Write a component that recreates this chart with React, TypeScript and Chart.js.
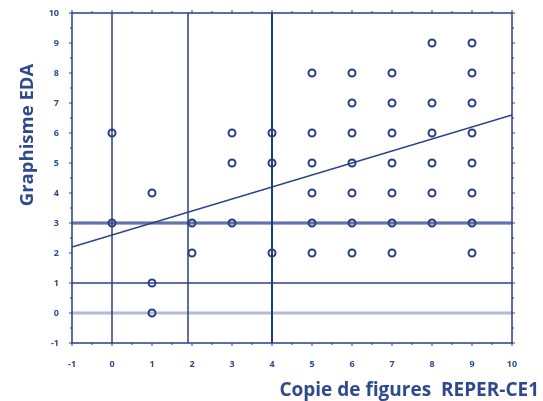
import React, { useEffect, useRef } from "react";
import { Chart, registerables } from "chart.js";

Chart.register(...registerables);

// Data
const columnX = [0, 1, 2, 3, 4, 5, 6, 7, 8, 9];
const columnY = [
  [6, 3],
  [4, 1, 0],
  [3, 2],
  [6, 5, 3],
  [6, 5, 2],
  [8, 6, 5, 4, 3, 2],
  [8, 7, 6, 5, 4, 3, 2],
  [8, 7, 6, 5, 4, 3, 2],
  [9, 7, 6, 5, 4, 3],
  [9, 8, 7, 6, 5, 4, 3, 2],
];
const regressionX = [-1, 10];
const regressionY = [2.2, 6.6];
const verticalLinesX = [0, 1.9, 4];
const horizontalLinesY = [0, 1, 3];
const xTicks = [-1, 0, 1, 2, 3, 4, 5, 6, 7, 8, 9, 10];
const yTicks = [-1, 0, 1, 2, 3, 4, 5, 6, 7, 8, 9, 10];
const xTitle = "Copie de figures  REPER-CE1";
const yTitle = "Graphisme EDA";

const NAVY = "#2a3f86";
const TEXT = "#2f4a8c";

const frameLinesPlugin = {
  id: "frameTicks",
  afterDatasetsDraw(chart: any) {
    const { ctx, chartArea } = chart;
    const { left, right, top, bottom } = chartArea;
    const xs = chart.scales.x;
    const ys = chart.scales.y;
    ctx.save();
    ctx.strokeStyle = NAVY;
    ctx.lineWidth = 1.5;
    ctx.strokeRect(left, top, right - left, bottom - top);
    ctx.lineWidth = 1;
    for (let v = xTicks[0]; v <= xTicks[xTicks.length - 1] + 1e-9; v += 0.5) {
      const px = xs.getPixelForValue(v);
      const len = Math.abs(v - Math.round(v)) < 1e-9 ? 3 : 2;
      ctx.beginPath();
      ctx.moveTo(px, bottom);
      ctx.lineTo(px, bottom + len);
      ctx.moveTo(px, top);
      ctx.lineTo(px, top - len);
      ctx.stroke();
    }
    for (let v = yTicks[0]; v <= yTicks[yTicks.length - 1] + 1e-9; v += 0.5) {
      const py = ys.getPixelForValue(v);
      const len = Math.abs(v - Math.round(v)) < 1e-9 ? 3 : 2;
      ctx.beginPath();
      ctx.moveTo(left, py);
      ctx.lineTo(left - len, py);
      ctx.moveTo(right, py);
      ctx.lineTo(right + len, py);
      ctx.stroke();
    }
    ctx.fillStyle = TEXT;
    ctx.font = "bold 19px 'Open Sans'";
    ctx.textAlign = "right";
    ctx.textBaseline = "alphabetic";
    ctx.fillText(xTitle, 539, 396);
    ctx.save();
    ctx.font = "bold 18.5px 'Open Sans'";
    ctx.translate(33, 135);
    ctx.rotate(-Math.PI / 2);
    ctx.textAlign = "center";
    ctx.fillText(yTitle, 0, 0);
    ctx.restore();
    ctx.restore();
  },
};

export default function App() {
  const ref = useRef<HTMLCanvasElement>(null);
  useEffect(() => {
    if (!ref.current) return;
    const points: { x: number; y: number }[] = [];
    columnX.forEach((x, i) => columnY[i].forEach((y) => points.push({ x, y })));

    const datasets: any[] = [
      {
        type: "scatter",
        data: points,
        pointStyle: "circle",
        pointRadius: 3.5,
        pointBorderWidth: 2,
        borderColor: NAVY,
        backgroundColor: "rgba(0,0,0,0)",
        order: 0,
      },
      {
        type: "line",
        data: regressionX.map((x, i) => ({ x, y: regressionY[i] })),
        borderColor: NAVY,
        borderWidth: 1.5,
        pointRadius: 0,
        order: 1,
      },
    ];
    verticalLinesX.forEach((x, i) => {
      datasets.push({
        type: "line",
        data: [
          { x, y: yTicks[0] },
          { x, y: yTicks[yTicks.length - 1] },
        ],
        borderColor: i === 2 ? "#1c3a8c" : NAVY,
        borderWidth: i === 2 ? 2 : 1.5,
        pointRadius: 0,
        order: 2,
      });
    });
    horizontalLinesY.forEach((y) => {
      const ends = [
        { x: xTicks[0], y },
        { x: xTicks[xTicks.length - 1], y },
      ];
      if (y === 0) {
        datasets.push({ type: "line", data: ends, borderColor: "#b3bcd6", borderWidth: 3, pointRadius: 0, order: 3 });
      } else if (y === 3) {
        datasets.push({ type: "line", data: ends, borderColor: "#9eaacb", borderWidth: 4, pointRadius: 0, order: 4 });
        datasets.push({ type: "line", data: ends, borderColor: NAVY, borderWidth: 1.2, pointRadius: 0, order: 3 });
      } else {
        datasets.push({ type: "line", data: ends, borderColor: NAVY, borderWidth: 1.5, pointRadius: 0, order: 3 });
      }
    });

    const tickFont = { family: "'Open Sans'", size: 9, weight: "bold" as const };
    const chart = new Chart(ref.current, {
      type: "scatter",
      data: { datasets },
      options: {
        animation: false,
        responsive: true,
        maintainAspectRatio: false,
        layout: { padding: { left: 0, top: 13, right: 31, bottom: 0 } },
        plugins: { legend: { display: false }, tooltip: { enabled: false } },
        scales: {
          x: {
            type: "linear",
            min: xTicks[0],
            max: xTicks[xTicks.length - 1],
            afterBuildTicks: (s: any) => {
              s.ticks = xTicks.map((v) => ({ value: v }));
            },
            afterFit: (s: any) => {
              s.height = 58;
            },
            grid: { display: false },
            border: { display: false },
            ticks: { color: TEXT, font: tickFont, padding: 8, maxRotation: 0, autoSkip: false },
          },
          y: {
            type: "linear",
            min: yTicks[0],
            max: yTicks[yTicks.length - 1],
            afterBuildTicks: (s: any) => {
              s.ticks = yTicks.map((v) => ({ value: v }));
            },
            afterFit: (s: any) => {
              s.width = 72;
            },
            grid: { display: false },
            border: { display: false },
            ticks: { color: TEXT, font: tickFont, padding: 5, autoSkip: false },
          },
        },
      },
      plugins: [frameLinesPlugin],
    });
    return () => chart.destroy();
  }, []);

  return (
    <div style={{ position: "fixed", left: 0, top: 0, width: 543, height: 401, background: "#fff" }}>
      <canvas ref={ref} />
    </div>
  );
}
